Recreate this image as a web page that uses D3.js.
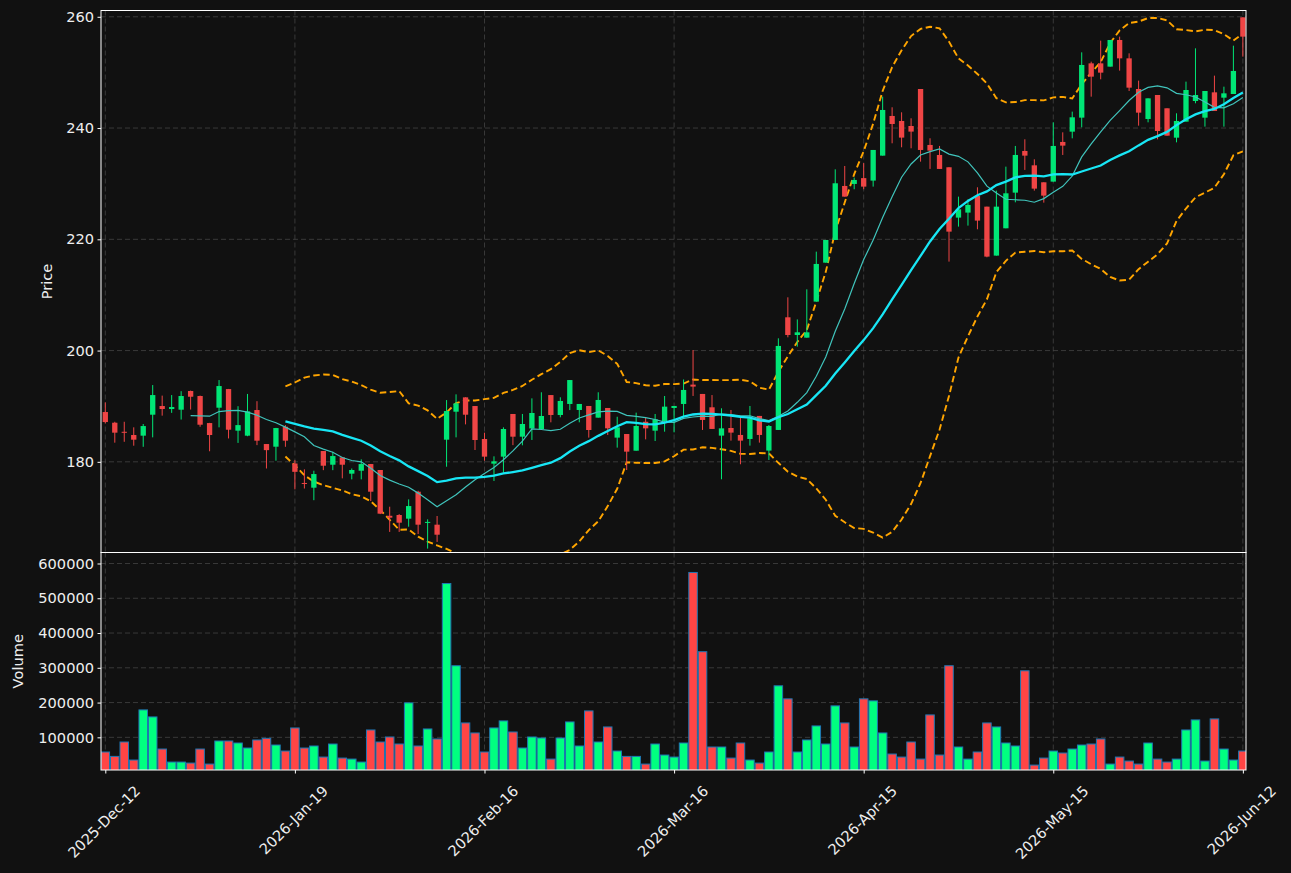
<!DOCTYPE html>
<html>
<head>
<meta charset="utf-8">
<script src="https://cdn.jsdelivr.net/npm/d3@7"></script>
<style>
body{margin:0;background:#111111;}
svg{display:block;font-family:"DejaVu Sans",sans-serif;}
</style>
</head>
<body>
<div id="chart"></div>
<script>
// daily bars, one entry per session (index = position on the x axis)
var opens = [
188.95,187.03,185.4,184.82,184.7,188.47,190.03,189.49,189.37,192.73,
191.83,186.97,189.73,193.08,185.6,184.7,189.31,183.2,182.72,186.3,
179.7,176.2,175.35,181.94,179.48,180.8,177.87,178.4,179.6,178.53,
170.3,170.44,169.78,174.63,169.06,168.7,183.98,189.01,191.59,190.03,
184.1,179.67,180.93,188.6,184.52,186.0,185.9,192.0,188.42,190.4,
189.32,190.04,187.94,189.68,184.35,185.0,182.0,187.2,185.6,187.34,
189.68,190.4,193.88,192.2,189.8,184.71,186.08,184.83,184.11,188.25,
182.02,185.73,205.98,202.8,202.32,208.8,215.8,219.88,229.59,229.95,
231.0,230.55,235.04,242.17,241.27,240.37,247.02,236.96,235.16,232.95,
223.9,224.8,227.79,225.87,217.07,221.98,228.39,235.88,233.3,230.25,
230.37,237.5,239.35,241.87,251.63,251.63,251.04,255.83,252.53,247.02,
241.63,245.94,243.55,238.27,241.15,244.86,241.87,246.42,245.46,246.12,
259.9];
var highs = [
190.69,187.2,187.2,186.2,186.8,193.8,191.9,192.0,192.7,192.8,
191.9,187.0,194.7,193.1,190.0,192.2,190.9,183.2,186.1,186.6,
180.3,178.65,178.4,181.95,181.8,180.8,178.8,180.44,179.6,178.53,
171.93,170.6,173.25,174.8,169.66,170.26,191.1,192.13,191.59,190.03,
185.24,180.99,186.2,188.6,188.6,191.41,192.5,192.0,191.6,194.7,
190.4,190.04,192.5,189.68,188.1,185.0,188.84,187.94,188.6,191.83,
190.04,194.8,200.1,192.2,192.0,189.62,189.32,188.13,190.04,188.25,
186.62,202.2,209.57,205.6,211.01,217.78,219.88,232.58,233.18,231.1,
233.7,236.06,245.65,243.73,242.83,241.75,247.02,238.16,236.78,232.95,
227.67,227.19,229.35,225.87,228.75,233.06,236.78,237.98,234.38,230.25,
241.03,239.23,242.95,253.61,251.93,255.71,255.83,256.43,253.43,248.52,
245.34,245.94,243.55,242.65,248.34,254.33,246.66,249.42,247.44,254.81,
259.9];
var lows = [
186.9,183.44,183.6,182.9,182.7,184.4,188.3,188.8,187.6,189.4,
186.3,181.9,186.2,184.2,183.4,184.6,183.0,178.8,180.2,182.7,
175.05,175.2,173.1,178.5,178.5,177.03,176.85,176.85,172.95,170.6,
167.4,167.4,168.34,167.02,164.4,165.6,179.12,184.4,186.73,182.12,
180.2,176.56,178.05,183.0,182.97,183.93,185.9,187.1,188.0,189.3,
187.1,184.35,187.94,184.82,182.55,178.53,182.0,184.04,183.74,185.42,
185.3,188.13,191.84,185.73,185.91,176.86,183.81,179.56,182.91,183.45,
180.33,185.73,202.38,200.7,202.32,208.8,215.8,219.88,227.67,229.0,
229.0,229.47,235.04,237.26,236.54,236.36,233.96,232.65,232.65,215.99,
222.28,222.46,221.8,216.77,217.07,221.98,226.65,232.47,228.75,226.59,
230.37,235.16,238.15,240.13,245.64,248.76,251.04,250.32,246.66,240.43,
241.03,237.97,238.63,237.43,241.15,244.45,240.25,243.07,240.25,246.12,
252.83];
var closes = [
187.15,185.24,185.25,183.98,186.43,192.0,189.49,189.85,191.83,191.7,
186.67,184.82,193.62,185.77,186.6,189.07,183.8,182.1,186.07,183.8,
178.2,176.1,177.8,179.3,181.04,179.48,178.53,179.6,174.63,170.68,
169.96,169.06,172.05,168.7,169.2,166.9,189.13,190.5,188.47,183.92,
180.93,180.09,185.9,184.52,186.8,188.78,188.24,188.42,190.94,194.7,
190.4,185.72,191.12,186.02,186.2,181.83,186.44,186.02,187.64,189.92,
190.04,192.92,193.52,187.53,185.91,186.02,185.25,183.81,187.83,184.83,
186.44,200.83,202.8,203.28,203.28,215.57,219.88,230.07,227.67,230.67,
229.47,236.06,243.25,240.73,238.28,239.36,236.06,235.94,232.65,221.38,
225.4,226.18,223.36,216.89,225.87,228.27,235.16,235.04,229.11,227.85,
236.78,236.84,241.93,251.34,249.24,249.96,255.83,252.53,247.26,242.77,
245.34,239.47,238.63,241.27,246.84,245.94,246.66,243.07,246.24,250.26,
256.43];
var volumes = [
57800,45200,86600,34700,178900,158700,66400,28900,28900,26000,
66400,23100,89500,89500,83700,69300,92400,97200,77900,60600,
127000,69300,75100,43300,80800,40400,37500,28900,121200,86600,
101000,80800,199100,75100,124100,95300,542400,305900,141400,112600,
57800,127000,147200,115400,69300,101000,98100,37500,98100,144300,
75100,176000,86600,129900,60600,45200,45200,23100,80800,49100,
43300,83700,574200,346300,72200,72200,40400,83700,34700,26000,
57800,248200,210700,57800,92400,132800,80800,190500,141400,72200,
210700,204900,112600,52000,43300,86600,37500,164500,49100,305900,
72200,37500,57800,141400,129900,83700,75100,291400,20200,40400,
60600,54900,66400,77900,80800,95300,23100,43300,31800,23100,
83700,37500,28900,37500,121200,150100,31800,153000,66400,34700,
60600];

var tickIndex = [0,20,40,60,80,100,120];
var tickLabels = ["2025-Dec-12","2026-Jan-19","2026-Feb-16","2026-Mar-16","2026-Apr-15","2026-May-15","2026-Jun-12"];
var priceTicks = [180,200,220,240,260];
var volumeTicks = [100000,200000,300000,400000,500000,600000];

var width = 1291, height = 873;
var left = 101, right = 1246;
var priceTop = 10.5, priceBottom = 552.5;
var volTop = 552.5, volBottom = 770;
var fontSize = 14.6;
var textColour = "#eeeeee";
var gridColour = "#444444";
var upColour = "#00e676", downColour = "#ef4545";
var upVol = "#00ff80", downVol = "#ff4545";

var n = closes.length;
var idx = d3.range(n);

var svg = d3.select("#chart")
    .append("svg")
    .attr("width", width)
    .attr("height", height);

svg.append("rect").attr("width", width).attr("height", height).attr("fill", "#111111");

var x = d3.scaleLinear().domain([-0.454, 120.33]).range([left, right]);
var yPrice = d3.scaleLinear().domain([163.7, 261.13]).range([priceBottom, priceTop]);
var yVol = d3.scaleLinear()
    .domain([0.3 * d3.min(volumes), 1.1 * d3.max(volumes)])
    .range([volBottom, volTop]);
var step = x(1) - x(0);

// clip paths for both panels
var defs = svg.append("defs");
defs.append("clipPath").attr("id", "clipPrice").append("rect")
    .attr("x", left).attr("y", priceTop).attr("width", right - left).attr("height", priceBottom - priceTop);
defs.append("clipPath").attr("id", "clipVol").append("rect")
    .attr("x", left).attr("y", volTop).attr("width", right - left).attr("height", volBottom - volTop);

// grid
function grid(ticks, yScale, top, bottom) {
  var g = svg.append("g");
  g.selectAll(".hg").data(ticks).enter().append("line")
      .attr("x1", left).attr("x2", right)
      .attr("y1", function(d) { return yScale(d); })
      .attr("y2", function(d) { return yScale(d); })
      .attr("stroke", gridColour).attr("stroke-width", 0.8).attr("stroke-dasharray", "5,3");
  g.selectAll(".vg").data(tickIndex).enter().append("line")
      .attr("x1", function(d) { return x(d); }).attr("x2", function(d) { return x(d); })
      .attr("y1", top).attr("y2", bottom)
      .attr("stroke", gridColour).attr("stroke-width", 0.8).attr("stroke-dasharray", "5,3");
}
grid(priceTicks, yPrice, priceTop, priceBottom);
grid(volumeTicks, yVol, volTop, volBottom);

// moving averages and bollinger bands (population std)
function sma(vals, p) {
  return vals.map(function(v, i) {
    return i < p - 1 ? null : d3.mean(vals.slice(i - p + 1, i + 1));
  });
}
function band(vals, p, k) {
  return vals.map(function(v, i) {
    if (i < p - 1) return null;
    var w = vals.slice(i - p + 1, i + 1);
    var m = d3.mean(w);
    var sd = Math.sqrt(d3.mean(w, function(q) { return (q - m) * (q - m); }));
    return m + k * sd;
  });
}
var ma10 = sma(closes, 10);
var ma20 = sma(closes, 20);
var bbUp = band(closes, 20, 2);
var bbLow = band(closes, 20, -2);

var line = function(arr) {
  return d3.line()
    .defined(function(d) { return arr[d] !== null; })
    .x(function(d) { return x(d); })
    .y(function(d) { return yPrice(arr[d]); })(idx);
};

var pricePanel = svg.append("g").attr("clip-path", "url(#clipPrice)");

[bbUp, bbLow].forEach(function(arr) {
  pricePanel.append("path")
      .attr("d", line(arr))
      .attr("fill", "none")
      .attr("stroke", "#ffa500")
      .attr("stroke-width", 1.9)
      .attr("stroke-dasharray", "6.5,3.5");
});

// candles
var candle = pricePanel.selectAll(".candle").data(idx).enter().append("g");
candle.append("line")
    .attr("x1", function(d) { return x(d); }).attr("x2", function(d) { return x(d); })
    .attr("y1", function(d) { return yPrice(highs[d]); })
    .attr("y2", function(d) { return yPrice(lows[d]); })
    .attr("stroke", function(d) { return closes[d] >= opens[d] ? upColour : downColour; })
    .attr("stroke-width", 1);
candle.append("rect")
    .attr("x", function(d) { return x(d) - step * 0.28; })
    .attr("width", step * 0.56)
    .attr("y", function(d) { return yPrice(Math.max(opens[d], closes[d])); })
    .attr("height", function(d) { return Math.max(1, Math.abs(yPrice(opens[d]) - yPrice(closes[d]))); })
    .attr("fill", function(d) { return closes[d] >= opens[d] ? upColour : downColour; });

pricePanel.append("path")
    .attr("d", line(ma10))
    .attr("fill", "none")
    .attr("stroke", "#40c4bc")
    .attr("stroke-width", 1.2);
pricePanel.append("path")
    .attr("d", line(ma20))
    .attr("fill", "none")
    .attr("stroke", "#18e6f5")
    .attr("stroke-width", 2.3);

// volume bars
var volPanel = svg.append("g").attr("clip-path", "url(#clipVol)");
volPanel.selectAll(".vol").data(idx).enter().append("rect")
    .attr("x", function(d) { return x(d) - step * 0.45; })
    .attr("width", step * 0.9)
    .attr("y", function(d) { return yVol(volumes[d]); })
    .attr("height", function(d) { return volBottom - yVol(volumes[d]) + 2; })
    .attr("fill", function(d) { return closes[d] >= opens[d] ? upVol : downVol; })
    .attr("stroke", "#1f77b4")
    .attr("stroke-width", 1);

// axes
function styleAxis(g) {
  g.select(".domain").remove();
  g.selectAll(".tick line").attr("stroke", "#ffffff");
  g.selectAll(".tick text")
      .attr("fill", textColour)
      .style("font-size", fontSize + "px")
      .style("font-family", "DejaVu Sans");
}
svg.append("g")
    .attr("transform", "translate(" + left + ",0)")
    .call(d3.axisLeft(yPrice).tickValues(priceTicks).tickSize(3.5).tickPadding(3.5))
    .call(styleAxis);
svg.append("g")
    .attr("transform", "translate(" + left + ",0)")
    .call(d3.axisLeft(yVol).tickValues(volumeTicks).tickSize(3.5).tickPadding(3.5).tickFormat(d3.format("d")))
    .call(styleAxis);

svg.append("g")
    .attr("transform", "translate(0," + volBottom + ")")
    .call(d3.axisBottom(x).tickValues(tickIndex).tickSize(3.5).tickFormat(""))
    .call(styleAxis);

// rotated date labels, top aligned under each tick
var labelTop = 784;
tickIndex.forEach(function(t, i) {
  var txt = svg.append("text")
      .text(tickLabels[i])
      .attr("fill", textColour)
      .style("font-size", fontSize + "px")
      .attr("text-anchor", "middle")
      .attr("dominant-baseline", "central");
  var w = txt.node().getComputedTextLength();
  var h = (w + fontSize * 0.8) * Math.SQRT1_2;
  txt.attr("transform", "translate(" + (x(t) - 1.5) + "," + (labelTop + h / 2) + ") rotate(-45)");
});

// panel frames
svg.append("rect")
    .attr("x", left).attr("y", priceTop).attr("width", right - left).attr("height", priceBottom - priceTop)
    .attr("fill", "none").attr("stroke", "#ffffff").attr("stroke-width", 1);
svg.append("rect")
    .attr("x", left).attr("y", volTop).attr("width", right - left).attr("height", volBottom - volTop)
    .attr("fill", "none").attr("stroke", "#ffffff").attr("stroke-width", 1);

// axis titles
svg.append("text")
    .attr("transform", "translate(46," + ((priceTop + priceBottom) / 2) + ") rotate(-90)")
    .attr("text-anchor", "middle")
    .attr("dominant-baseline", "central")
    .attr("fill", textColour)
    .style("font-size", fontSize + "px")
    .text("Price");
svg.append("text")
    .attr("transform", "translate(17," + ((volTop + volBottom) / 2) + ") rotate(-90)")
    .attr("text-anchor", "middle")
    .attr("dominant-baseline", "central")
    .attr("fill", textColour)
    .style("font-size", fontSize + "px")
    .text("Volume");
</script>
</body>
</html>
